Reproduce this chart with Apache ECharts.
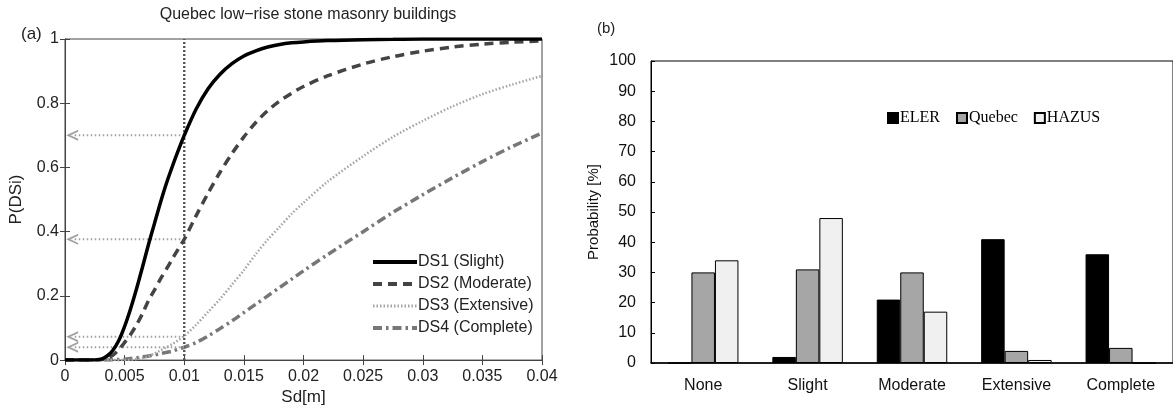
<!DOCTYPE html>
<html>
<head>
<meta charset="utf-8">
<script src="https://cdn.jsdelivr.net/npm/echarts@6/dist/echarts.min.js"></script>
<style>html,body{margin:0;padding:0;background:#fff;}#c{width:1173px;height:411px;}</style>
</head>
<body>
<div id="c"></div>
<script>
// ---- Panel (a): fragility curves ----
const sd = [0, 0.002, 0.003, 0.0035, 0.004, 0.0045, 0.005, 0.0055, 0.006, 0.0065, 0.007, 0.0075, 0.008, 0.0085, 0.009, 0.0095, 0.01, 0.011, 0.012, 0.013, 0.014, 0.015, 0.016, 0.017, 0.018, 0.019, 0.02, 0.022, 0.025, 0.0275, 0.03, 0.0325, 0.035, 0.0375, 0.04];
const ds1 = [0, 0, 0.003, 0.012, 0.03, 0.06, 0.105, 0.16, 0.222, 0.29, 0.36, 0.425, 0.49, 0.55, 0.603, 0.653, 0.70, 0.782, 0.845, 0.89, 0.923, 0.947, 0.963, 0.975, 0.983, 0.988, 0.991, 0.995, 0.998, 0.999, 1, 1, 1, 1, 1];
const ds2 = [0, 0, 0.001, 0.005, 0.015, 0.032, 0.055, 0.08, 0.11, 0.145, 0.185, 0.218, 0.252, 0.283, 0.315, 0.346, 0.376, 0.45, 0.52, 0.585, 0.643, 0.695, 0.74, 0.777, 0.807, 0.831, 0.852, 0.885, 0.922, 0.945, 0.962, 0.975, 0.984, 0.99, 0.994];
const ds3 = [0, 0, 0, 0, 0, 0, 0, 0.001, 0.003, 0.007, 0.012, 0.02, 0.03, 0.04, 0.05, 0.062, 0.075, 0.11, 0.15, 0.19, 0.235, 0.28, 0.33, 0.375, 0.415, 0.455, 0.49, 0.555, 0.635, 0.695, 0.745, 0.79, 0.828, 0.858, 0.885];
const ds4 = [0, 0, 0, 0, 0.001, 0.002, 0.003, 0.005, 0.007, 0.01, 0.013, 0.016, 0.02, 0.024, 0.028, 0.034, 0.04, 0.055, 0.075, 0.098, 0.122, 0.148, 0.174, 0.2, 0.226, 0.252, 0.278, 0.328, 0.40, 0.46, 0.515, 0.568, 0.618, 0.665, 0.707];
const curveNames = ['DS1 (Slight)', 'DS2 (Moderate)', 'DS3 (Extensive)', 'DS4 (Complete)'];
const refSd = 0.01;
const refP = [0.70, 0.376, 0.073, 0.04];
const arrowEndSd = 0.0006;

// ---- Panel (b): damage distribution ----
const categories = ['None', 'Slight', 'Moderate', 'Extensive', 'Complete'];
const eler = [0, 2, 21, 41, 36];
const quebec = [30, 31, 30, 4, 5];
const hazus = [34, 48, 17, 1, 0];
const barNames = ['ELER', 'Quebec', 'HAZUS'];

const SANS = '"Liberation Sans", Arial, sans-serif';
const SERIF = '"Liberation Serif", "Times New Roman", serif';
const pair = arr => sd.map((x, i) => [x, arr[i]]);
const chevron = 'path://M0,10 L5,0 L10,10 L8.2,10 L5,3.6 L1.8,10 Z';

const curveStyles = [
  {color: '#000', width: 3.5, type: 'solid'},
  {color: '#444', width: 3.5, type: [9, 6]},
  {color: '#a4a4a4', width: 2.5, type: [1.5, 2]},
  {color: '#777', width: 3.5, type: [9, 4, 2.5, 4]}
];
const curveData = [ds1, ds2, ds3, ds4];

const chart = echarts.init(document.getElementById('c'), null, {renderer: 'canvas'});
const boxTick = {show: true, inside: true, length: 5, lineStyle: {color: '#444', width: 1}};
const refStyle = {color: '#a0a0a0', width: 2, type: [1.5, 2.5]};

const series = [];
curveNames.forEach((n, i) => {
  series.push({name: n, type: 'line', xAxisIndex: 0, yAxisIndex: 0, data: pair(curveData[i]),
    smooth: 0.3, symbol: 'none', z: 5 - i, lineStyle: curveStyles[i], itemStyle: {color: curveStyles[i].color}});
});
// vertical reference line at Sd = 0.01
series.push({name: 'vref', type: 'line', xAxisIndex: 0, yAxisIndex: 0, symbol: 'none', silent: true, z: 2,
  data: [[refSd, 0], [refSd, 1]], lineStyle: {color: '#555', width: 2.4, type: [2, 2]}});
// horizontal reference lines
refP.forEach(p => {
  series.push({name: 'href', type: 'line', xAxisIndex: 0, yAxisIndex: 0, symbol: 'none', silent: true, z: 2,
    data: [[refSd, p], [arrowEndSd, p]], lineStyle: refStyle});
});
// arrow heads
series.push({name: 'arrows', type: 'scatter', xAxisIndex: 0, yAxisIndex: 0, silent: true, z: 2,
  data: refP.map(p => [arrowEndSd, p]), symbol: chevron, symbolSize: [11, 12], symbolRotate: 90,
  itemStyle: {color: '#8a8a8a'}});
// bars
const barColors = ['#000', '#a6a6a6', '#f0f0f0'];
[eler, quebec, hazus].forEach((d, i) => {
  series.push({name: barNames[i], type: 'bar', xAxisIndex: 2, yAxisIndex: 2, data: d,
    barWidth: 23.5, barGap: '0%',
    itemStyle: {color: barColors[i], borderColor: '#000', borderWidth: 1}});
});

chart.setOption({
  animation: false,
  backgroundColor: '#fff',
  textStyle: {fontFamily: SANS},
  title: [{
    text: 'Quebec low\u2212rise stone masonry buildings',
    left: 303, top: 2, textAlign: 'center',
    textStyle: {fontFamily: SANS, fontSize: 16, fontWeight: 'normal', color: '#222'}
  }],
  graphic: [
    {type: 'text', left: 21, top: 26, style: {text: '(a)', font: '17px ' + SANS, fill: '#222'}},
    {type: 'text', left: 597, top: 21, style: {text: '(b)', font: '15px ' + SANS, fill: '#222'}}
  ],
  grid: [
    {left: 65, top: 39, width: 477, height: 327, show: true, borderColor: '#444', borderWidth: 1, backgroundColor: 'transparent'},
    {left: 651, top: 61, width: 530, height: 302, show: true, borderColor: '#000', borderWidth: 1, backgroundColor: 'transparent'}
  ],
  legend: [{
    data: curveNames.map((n, i) => ({name: n, lineStyle: {width: curveStyles[i].width + 0.5}})),
    orient: 'vertical', left: 366, top: 249,
    itemWidth: 44, itemHeight: 12, itemGap: 6,
    itemStyle: {opacity: 0},
    textStyle: {fontFamily: SANS, fontSize: 16, color: '#222', padding: [0, 0, 0, -4]}
  }, {
    data: barNames,
    orient: 'horizontal', left: 882, top: 105,
    itemWidth: 10, itemHeight: 10, itemGap: 16,
    textStyle: {fontFamily: SERIF, fontSize: 16, color: '#000', padding: [0, 0, 0, -3]},
    icon: 'rect'
  }],
  xAxis: [
    {type: 'value', gridIndex: 0, min: 0, max: 0.04, interval: 0.005,
     name: 'Sd[m]', nameLocation: 'middle', nameGap: 28,
     nameTextStyle: {fontFamily: SANS, fontSize: 17, color: '#222'},
     axisLine: {show: true, onZero: false, lineStyle: {color: '#444'}},
     axisTick: boxTick, splitLine: {show: false},
     axisLabel: {fontFamily: SANS, fontSize: 16, color: '#222', margin: 8}},
    {type: 'value', gridIndex: 0, position: 'top', min: 0, max: 0.04, interval: 0.005,
     axisLine: {show: true, lineStyle: {color: '#444'}}, axisTick: boxTick,
     axisLabel: {show: false}, splitLine: {show: false}},
    {type: 'category', gridIndex: 1, data: categories,
     axisLine: {show: true, lineStyle: {color: '#000', width: 1.5}},
     axisTick: {show: false},
     axisLabel: {fontFamily: SANS, fontSize: 16, color: '#111', margin: 15}}
  ],
  yAxis: [
    {type: 'value', gridIndex: 0, min: 0, max: 1, interval: 0.2,
     name: 'P(DSi)', nameLocation: 'middle', nameGap: 40, nameRotate: 90,
     nameTextStyle: {fontFamily: SANS, fontSize: 17, color: '#222'},
     axisLine: {show: true, onZero: false, lineStyle: {color: '#444'}},
     axisTick: boxTick, splitLine: {show: false},
     axisLabel: {fontFamily: SANS, fontSize: 16, color: '#222', margin: 6}},
    {type: 'value', gridIndex: 0, position: 'right', min: 0, max: 1, interval: 0.2,
     axisLine: {show: true, lineStyle: {color: '#444'}}, axisTick: boxTick,
     axisLabel: {show: false}, splitLine: {show: false}},
    {type: 'value', gridIndex: 1, min: 0, max: 100, interval: 10,
     name: 'Probability [%]', nameLocation: 'middle', nameGap: 50, nameRotate: 90,
     nameTextStyle: {fontFamily: SANS, fontSize: 15, color: '#111'},
     axisLine: {show: true, lineStyle: {color: '#000', width: 1}},
     axisTick: {show: true, inside: true, length: 4, lineStyle: {color: '#000'}},
     splitLine: {show: false},
     axisLabel: {fontFamily: SANS, fontSize: 16, color: '#111', margin: 15}}
  ],
  series: series
});
</script>
</body>
</html>
